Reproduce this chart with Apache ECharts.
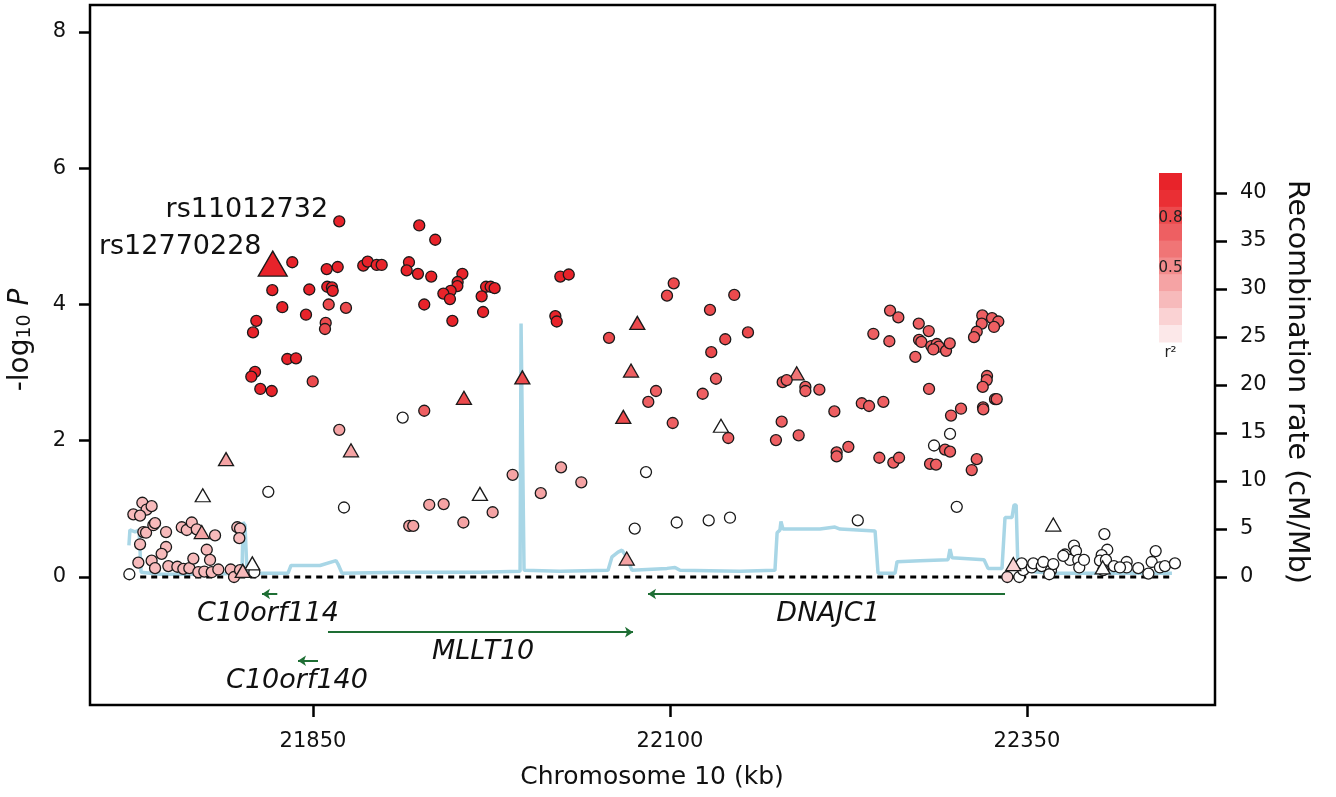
<!DOCTYPE html>
<html><head><meta charset="utf-8">
<script src="https://cdn.jsdelivr.net/npm/echarts@6/dist/echarts.min.js"></script>
<style>html,body{margin:0;padding:0;background:#fff}#c{width:1336px;height:797px}</style>
</head><body><div id="c"></div><script>
// ---------------- data ----------------
const xTicks = [21850, 22100, 22350];
const yTicks = [0, 2, 4, 6, 8];
const recombTicks = [0, 5, 10, 15, 20, 25, 30, 35, 40];

// lead SNP and named SNP: [kb, -log10 P, r2]
const leadSNP = [[21821.8, 4.60, 1.0]];
const leadName = 'rs12770228';
const namedSNP = [[21868.4, 5.22, 0.95]];
const namedName = 'rs11012732';

// circles, grouped by r2 band: [kb, -log10 P]
const circlesR95 = [[21835.5,4.62],[21821.5,4.21],[21847.4,4.22],[21859.6,4.52],[21867.3,4.55],[21885.2,4.57],[21888.3,4.63],[21894.6,4.58],[21898.1,4.58],[21917.2,4.62],[21915.6,4.50],[21923.5,4.45],[21924.4,5.16],[21935.6,4.95],[21932.8,4.41],[21954.6,4.45],[21951.3,4.33],[21951.1,4.27],[21946.4,4.20],[21941.3,4.16],[21945.9,4.08],[21927.9,4.00],[21947.6,3.76],[21971.2,4.26],[21974.4,4.26],[21977.2,4.24],[21968.1,4.12],[21969.1,3.89],[22023.2,4.41],[22029.1,4.44],[22019.7,3.83],[22020.7,3.75],[21828.5,3.96],[21845.1,3.85],[21810.3,3.76],[21808.0,3.59],[21832.0,3.20],[21838.1,3.21],[21809.4,3.01],[21806.8,2.94],[21813.1,2.76],[21821.1,2.73],[21860.0,4.26],[21863.3,4.25],[21863.8,4.20]];
const circlesR75 = [[21861.0,4.00],[21873.1,3.95],[21858.9,3.73],[21858.4,3.64],[21849.8,2.87],[22102.6,4.31],[22097.9,4.13],[22128.0,3.92],[22145.0,4.14],[22154.6,3.59],[22138.7,3.49],[22128.9,3.30],[22057.3,3.51]];
const circlesR65 = [[22090.2,2.73],[22084.8,2.57],[22132.2,2.91],[22122.9,2.69],[21927.9,2.44],[22101.9,2.26],[22140.8,2.04],[22254.1,3.91],[22259.9,3.81],[22242.4,3.57],[22253.6,3.46],[22274.2,3.72],[22281.2,3.61],[22274.4,3.48],[22276.0,3.45],[22283.0,3.39],[22286.8,3.42],[22288.2,3.38],[22284.4,3.34],[22293.3,3.32],[22295.9,3.43],[22271.8,3.23],[22318.7,3.84],[22318.3,3.72],[22325.5,3.80],[22329.9,3.75],[22326.9,3.67],[22314.8,3.60],[22312.9,3.52],[22178.9,2.86],[22181.7,2.89],[22194.8,2.79],[22194.8,2.73],[22204.6,2.75],[22215.1,2.43],[22234.3,2.55],[22239.4,2.51],[22249.4,2.57],[22281.4,2.76],[22322.0,2.95],[22321.8,2.89],[22319.0,2.79],[22327.6,2.61],[22328.8,2.61],[22303.8,2.47],[22296.8,2.37],[22319.2,2.49],[22319.4,2.46],[22178.2,2.28],[22174.2,2.01],[22190.1,2.08],[22216.7,1.83],[22216.7,1.77],[22224.9,1.91],[22246.6,1.75],[22256.4,1.68],[22260.4,1.75],[22282.1,1.66],[22286.3,1.65],[22292.6,1.87],[22296.1,1.84],[22314.8,1.73],[22311.3,1.57]];
const circlesR35 = [[21868.4,2.16],[21989.8,1.50],[22023.7,1.61],[22037.9,1.39],[22009.5,1.23],[21931.4,1.06],[21941.5,1.07],[21975.8,0.95],[21955.3,0.80],[21917.4,0.75],[21920.2,0.75]];
const circlesR25 = [[21730.5,1.09],[21733.5,0.99],[21737.0,1.04],[21724.2,0.92],[21728.9,0.90],[21731.2,0.66],[21733.1,0.65],[21738.2,0.76],[21739.4,0.79],[21728.9,0.48],[21747.1,0.66],[21747.1,0.44],[21744.0,0.34],[21727.7,0.21],[21737.0,0.24],[21739.4,0.13],[21748.7,0.16],[21755.0,0.15],[21759.2,0.12],[21763.4,0.13],[21769.7,0.07],[21773.9,0.08],[21779.1,0.07],[21783.7,0.11],[21758.1,0.73],[21761.6,0.69],[21765.1,0.80],[21768.6,0.70],[21781.4,0.61],[21775.6,0.40],[21766.2,0.27],[21777.9,0.25],[21792.4,0.11],[21794.7,0.00],[21798.9,0.10],[21797.0,0.73],[21798.9,0.71],[21798.4,0.57]];
const circlesR15 = [[22336.2,0.00]];
const circlesR0 = [[21721.4,0.04],[21808.9,0.07],[21818.7,1.25],[21871.7,1.02],[21912.8,2.34],[22083.2,1.54],[22075.3,0.71],[22104.7,0.80],[22127.1,0.83],[22142.0,0.87],[22296.1,2.10],[22284.9,1.93],[22300.8,1.03],[22231.5,0.83],[22344.6,0.00],[22347.4,0.10],[22346.3,0.20],[22353.3,0.14],[22354.4,0.20],[22360.3,0.16],[22361.4,0.22],[22366.8,0.10],[22365.6,0.04],[22368.4,0.19],[22376.6,0.33],[22380.1,0.25],[22382.9,0.46],[22384.3,0.38],[22385.9,0.25],[22386.6,0.14],[22389.9,0.25],[22375.4,0.31],[22404.2,0.63],[22406.2,0.40],[22402.3,0.32],[22401.1,0.24],[22405.3,0.25],[22403.4,0.10],[22410.9,0.16],[22419.8,0.22],[22419.8,0.14],[22427.9,0.13],[22415.1,0.14],[22440.1,0.38],[22437.3,0.22],[22435.0,0.05],[22443.1,0.14],[22446.6,0.16],[22453.6,0.20]];

// triangles, grouped by r2 band
const trianglesR75 = [[21955.7,2.63],[22077.1,3.73],[22067.3,2.35],[21996.6,2.93]];
const trianglesR65 = [[22072.7,3.03]];
const trianglesR55 = [[22188.7,2.99]];
const trianglesR35 = [[21876.6,1.86],[21789.1,1.73],[21772.1,0.66],[22069.7,0.27]];
const trianglesR25 = [[21800.8,0.09]];
const trianglesR15 = [[22340.4,0.19]];
const trianglesR0 = [[21772.8,1.20],[21807.5,0.20],[21966.9,1.22],[22135.7,2.22],[22368.4,0.77],[22403.0,0.14]];

// recombination rate (cM/Mb)
const recombKb = [21721.1,21721.8,21725.4,21728.2,21729.6,21742.9,21770.9,21800.3,21801.0,21802.4,21803.8,21832.5,21834.6,21854.9,21866.1,21867.5,21870.3,21910.9,21938.9,21966.9,21995.0,21995.7,21997.1,21997.8,22023.0,22056.6,22059.4,22063.6,22066.4,22069.2,22073.4,22097.9,22103.5,22107.0,22149.0,22173.5,22175.0,22177.0,22177.7,22179.1,22205.0,22215.5,22219.0,22243.6,22245.7,22257.6,22259.0,22275.1,22294.7,22296.1,22297.5,22319.9,22322.7,22332.5,22334.6,22339.5,22340.9,22342.4,22343.7,22366.1,22401.1,22451.5];
const recombRate = [3.3,4.9,4.7,4.9,0.5,0.3,0.3,0.4,5.7,5.4,0.4,0.4,1.2,1.2,1.7,1.35,0.4,0.5,0.5,0.5,0.6,26.4,26.4,0.7,0.6,0.7,2.1,2.6,2.8,2.2,0.7,0.9,1.0,0.7,0.6,0.7,4.6,4.9,5.8,5.0,5.0,5.2,5.0,4.8,0.4,0.4,1.6,1.7,1.8,2.9,2.0,1.8,0.9,0.9,6.2,6.2,7.5,7.5,0.7,0.4,0.4,0.4];

const baselineKb = [21729, 22452];

// genes
const geneNames = ['C10orf114', 'MLLT10', 'DNAJC1', 'C10orf140'];
const geneTail = [21825.0, 21860.5, 22334.6, 21853.5];
const geneHead = [21814.3, 22074.1, 22084.6, 21839.5];
const geneLabelKb = [21818.5, 21969.1, 22210.7, 21838.8];
const geneRow = [0, 1, 0, 2];
const geneRowY = [-0.25, -0.81, -1.23];

// r2 legend
const legendColors = ['#e8232a','#ea2f34','#ec4a4d','#ee5f62','#f07576','#f28b8c','#f5a3a4','#f7babb','#fad2d3','#fce8e9'];
const legendLabels = [{t:'0.8', bin:2}, {t:'0.5', bin:5}];

// ---------------- layout ----------------
const FONT = 'DejaVu Sans';
const X_MIN = 21693.84, X_MAX = 22481.65;
const Y_MIN = -1.879, Y_MAX = 8.396;
const R_MIN = -13.33, R_MAX = 59.58;
const GREEN = '#1e6e34';

function r2Color(r2) {
  if (r2 < 0.1) return '#ffffff';
  const i = Math.min(9, Math.floor((1 - r2) * 10 + 1e-9));
  return legendColors[i];
}
function snpSeries(points, r2, symbol, size) {
  return {
    type: 'scatter', data: points, symbol: symbol, symbolSize: size, z: 5,
    itemStyle: {color: r2Color(r2), borderColor: '#1a1a1a', borderWidth: 1.3, opacity: 1},
    emphasis: {disabled: true}, silent: true
  };
}
const CIRC = 11, TRI = [15, 13];
const bands = [
  [circlesR0, 0.0, 'circle'], [trianglesR0, 0.0, 'triangle'],
  [circlesR15, 0.15, 'circle'], [trianglesR15, 0.15, 'triangle'],
  [circlesR25, 0.25, 'circle'], [trianglesR25, 0.25, 'triangle'],
  [circlesR35, 0.35, 'circle'], [trianglesR35, 0.35, 'triangle'],
  [trianglesR55, 0.55, 'triangle'],
  [circlesR65, 0.65, 'circle'], [trianglesR65, 0.65, 'triangle'],
  [circlesR75, 0.75, 'circle'], [trianglesR75, 0.75, 'triangle'],
  [circlesR95, 0.95, 'circle']
];

const series = [];
series.push({
  type: 'line', yAxisIndex: 1, data: recombKb.map((k, i) => [k, recombRate[i]]),
  symbol: 'none', showSymbol: false, lineStyle: {color: '#a8d6e6', width: 3.5}, z: 1, silent: true
});
series.push({
  type: 'line', data: baselineKb.map(k => [k, 0]), symbol: 'none',
  lineStyle: {color: '#000', width: 3, type: [6, 5]}, z: 2, silent: true
});
series.push({
  type: 'lines', coordinateSystem: 'cartesian2d', polyline: false,
  data: geneNames.map((n, i) => ({coords: [[geneTail[i], geneRowY[geneRow[i]]], [geneHead[i], geneRowY[geneRow[i]]]]})),
  symbol: ['none', 'arrow'], symbolSize: 8,
  lineStyle: {color: GREEN, width: 2, opacity: 1}, z: 2, silent: true
});
series.push({
  type: 'scatter', symbolSize: 2, itemStyle: {color: 'rgba(0,0,0,0)'}, z: 3, silent: true,
  data: geneNames.map((n, i) => ({name: n, value: [geneLabelKb[i], geneRowY[geneRow[i]]]})),
  label: {show: true, position: [1, 21], align: 'center', verticalAlign: 'middle', formatter: '{b}', fontSize: 27,
          fontStyle: 'italic', fontFamily: FONT, color: '#111', opacity: 1}
});
bands.forEach(b => series.push(snpSeries(b[0], b[1], b[2], b[2] === 'circle' ? CIRC : TRI)));
series.push(Object.assign(snpSeries(namedSNP.map(p => ({name: namedName, value: [p[0], p[1]]})), namedSNP[0][2], 'circle', CIRC), {
  z: 6, label: {show: true, position: 'left', distance: 5, offset: [0, -11], formatter: '{b}', fontSize: 27, fontFamily: FONT, color: '#111'}
}));
series.push(Object.assign(snpSeries(leadSNP.map(p => ({name: leadName, value: [p[0], p[1]]})), leadSNP[0][2], 'triangle', [29, 25]), {
  z: 7, label: {show: true, position: 'left', distance: 0, offset: [4, -17], formatter: '{b}', fontSize: 27, fontFamily: FONT, color: '#111'}
}));

// legend graphic (colour bar)
const LB = {x: 1159, y: 173, w: 23, h: 169};
const binH = LB.h / legendColors.length;
const graphic = [];
legendColors.forEach((c, i) => graphic.push({
  type: 'rect', shape: {x: LB.x, y: LB.y + i * binH, width: LB.w, height: binH + 0.5},
  style: {fill: c}, silent: true
}));
legendLabels.forEach(l => graphic.push({
  type: 'text', x: LB.x + LB.w / 2, y: LB.y + l.bin * binH + 11,
  style: {text: l.t, fontSize: 15, fontFamily: FONT, fill: '#222', align: 'center', verticalAlign: 'middle'}
}));
graphic.push({type: 'text', x: LB.x + LB.w / 2, y: LB.y + LB.h + 11,
  style: {text: 'r²', fontSize: 15, fontFamily: FONT, fill: '#222', align: 'center', verticalAlign: 'middle'}});
// axis titles
graphic.push({type: 'text', x: 21, y: 340, rotation: Math.PI / 2,
  style: {text: '{a|-log}{b|10}{c| P}', align: 'center', verticalAlign: 'middle', fill: '#111',
    rich: {a: {fontSize: 28, fontFamily: FONT, fill: '#111'},
           b: {fontSize: 19, fontFamily: FONT, fill: '#111', verticalAlign: 'bottom', padding: [8, 0, 0, 0]},
           c: {fontSize: 28, fontFamily: FONT, fontStyle: 'italic', fill: '#111'}}}});
graphic.push({type: 'text', x: 1296, y: 382, rotation: -Math.PI / 2,
  style: {text: 'Recombination rate (cM/Mb)', fontSize: 28.5, fontFamily: FONT, fill: '#111', align: 'center', verticalAlign: 'middle'}});
graphic.push({type: 'text', x: 652, y: 777,
  style: {text: 'Chromosome 10 (kb)', fontSize: 25, fontFamily: FONT, fill: '#111', align: 'center', verticalAlign: 'middle'}});

const tickStyle = {color: '#000', width: 2.5};
const labelStyle = {fontSize: 21, fontFamily: FONT, color: '#111', formatter: v => String(v)};
const option = {
  animation: false,
  backgroundColor: '#fff',
  grid: {left: 90, right: 121, top: 5, bottom: 92, show: true, borderColor: '#000', borderWidth: 2.5, containLabel: false},
  xAxis: {type: 'value', min: X_MIN, max: X_MAX,
    axisLine: {show: false, onZero: false}, splitLine: {show: false},
    axisTick: {show: true, customValues: xTicks, length: 12, lineStyle: tickStyle},
    axisLabel: Object.assign({customValues: xTicks, margin: 26}, labelStyle)},
  yAxis: [
    {type: 'value', min: Y_MIN, max: Y_MAX, position: 'left',
     axisLine: {show: false, onZero: false}, splitLine: {show: false},
     axisTick: {show: true, customValues: yTicks, length: 11, lineStyle: tickStyle},
     axisLabel: Object.assign({customValues: yTicks, margin: 24}, labelStyle)},
    {type: 'value', min: R_MIN, max: R_MAX, position: 'right',
     axisLine: {show: false, onZero: false}, splitLine: {show: false},
     axisTick: {show: true, customValues: recombTicks, length: 12, lineStyle: tickStyle},
     axisLabel: Object.assign({customValues: recombTicks, margin: 25}, labelStyle)}
  ],
  graphic: graphic,
  series: series
};
const chart = echarts.init(document.getElementById('c'));
chart.setOption(option);
</script></body></html>
